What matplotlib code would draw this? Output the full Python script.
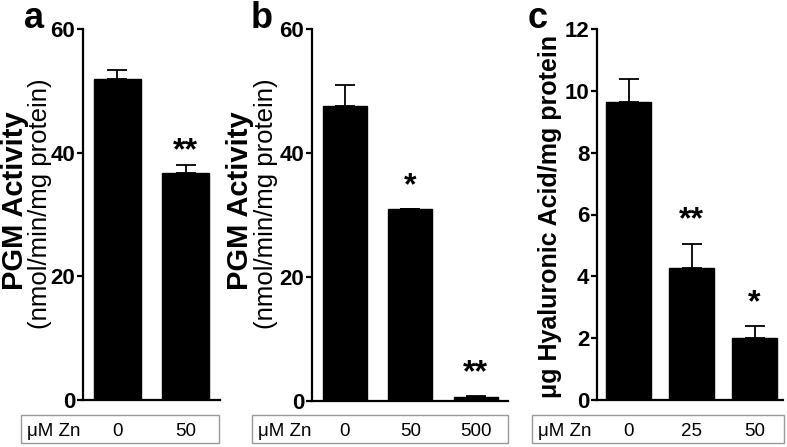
import matplotlib
matplotlib.use("Agg")
import matplotlib.pyplot as plt
from matplotlib.patches import Rectangle

plt.rcParams['font.family'] = ['Liberation Sans', 'DejaVu Sans']

# panel a
a_doses = ['0', '50']
a_means = [51.9, 36.7]
a_errs = [1.5, 1.3]
a_stars = ['', '**']

# panel b
b_doses = ['0', '50', '500']
b_means = [47.6, 31.0, 0.6]
b_errs = [3.4, 0.0, 0.2]
b_stars = ['', '*', '**']

# panel c
c_doses = ['0', '25', '50']
c_means = [9.64, 4.27, 2.0]
c_errs = [0.74, 0.78, 0.39]
c_stars = ['', '**', '*']

W, H = 787, 447
fig = plt.figure(figsize=(W / 100, H / 100), dpi=100)


def px_axes(x0, x1, ytop, ybot):
    return fig.add_axes([x0 / W, (H - ybot) / H, (x1 - x0) / W, (ybot - ytop) / H])


def ftext(x, y, s, **kw):
    # place text with pixel coords measured from the top-left corner
    return fig.text(x / W, (H - y) / H, s, **kw)


def panel(ax, means, errs, stars, width, xlim, ymax, yticks, star_off):
    x = list(range(len(means)))
    ax.bar(x, means, width=width, color='black', edgecolor='black', zorder=2)
    lower = [0] * len(errs)
    ax.errorbar(x, means, yerr=[lower, errs], fmt='none', ecolor='black',
                elinewidth=1.3, capsize=7, capthick=1.3, zorder=1)
    for xi, m, e, s in zip(x, means, errs, stars):
        if s:
            ax.text(xi, m + e + star_off, s, ha='center', va='center',
                    fontsize=23, fontweight='bold')
    ax.set_xlim(*xlim)
    ax.set_ylim(0, ymax)
    ax.set_yticks(yticks)
    ax.set_xticks([])
    for s in ['top', 'right']:
        ax.spines[s].set_visible(False)
    for s in ['left', 'bottom']:
        ax.spines[s].set_linewidth(1.6)
    ax.tick_params(axis='y', length=4.5, width=1.6, labelsize=16, pad=1)
    for lab in ax.get_yticklabels():
        lab.set_fontweight('bold')


def table(x0, x1, labels, ax):
    fig.patches.append(Rectangle((x0 / W, (H - 443) / H), (x1 - x0) / W, 28 / H,
                                 transform=fig.transFigure, fill=False,
                                 edgecolor='#999999', linewidth=1.0))
    ftext(x0 + 6, 431, 'μM Zn', ha='left', va='center', fontsize=13.5)
    for i, lab in enumerate(labels):
        xd = ax.transData.transform((i, 0))[0]
        ftext(xd, 431, lab, ha='center', va='center', fontsize=13.5)


ax_a = px_axes(83, 220, 29, 400)
panel(ax_a, a_means, a_errs, a_stars, 0.69, (-0.5, 1.5), 60, [0, 20, 40, 60], 2.3)
ftext(15, 201, 'PGM Activity', rotation=90, ha='center', va='center',
      fontsize=21, fontweight='bold')
ftext(40, 204, '(nmol/min/mg protein)', rotation=90, ha='center', va='center',
      fontsize=18.5)
ftext(24, 19, 'a', fontsize=26, fontweight='bold', va='center')

ax_b = px_axes(312, 508, 29, 401)
panel(ax_b, b_means, b_errs, b_stars, 0.67, (-0.5, 2.49), 60, [0, 20, 40, 60], 3.6)
ftext(240, 201, 'PGM Activity', rotation=90, ha='center', va='center',
      fontsize=21, fontweight='bold')
ftext(266, 204, '(nmol/min/mg protein)', rotation=90, ha='center', va='center',
      fontsize=18.5)
ftext(251, 19, 'b', fontsize=26, fontweight='bold', va='center')

ax_c = px_axes(597, 783, 29, 400)
panel(ax_c, c_means, c_errs, c_stars, 0.71, (-0.5, 2.45), 12, list(range(0, 13, 2)), 0.75)
ftext(550, 217, 'μg Hyaluronic Acid/mg protein', rotation=90, ha='center',
      va='center', fontsize=18, fontweight='bold')
ftext(528, 19, 'c', fontsize=26, fontweight='bold', va='center')

table(21, 219, a_doses, ax_a)
table(252, 508, b_doses, ax_b)
table(532, 784, c_doses, ax_c)

fig.savefig('out.png', dpi=100)
